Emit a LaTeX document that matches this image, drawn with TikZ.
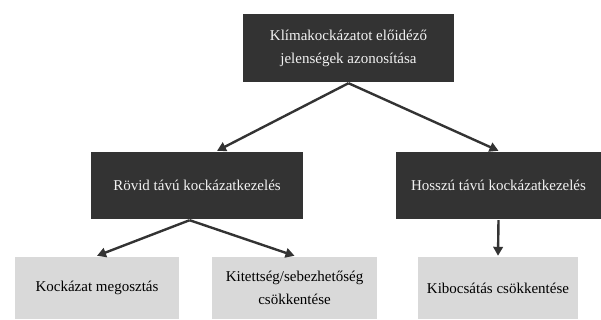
\documentclass[tikz,border=0pt]{standalone}
\usepackage{fontspec}
\setmainfont{Liberation Serif}
\usetikzlibrary{arrows.meta, positioning}
\definecolor{cdark}{HTML}{333333}
\definecolor{clight}{HTML}{D9D9D9}
\definecolor{ctext}{HTML}{F2F2F2}
\tikzset{
  every picture/.style={line width=2.4pt},
  dark/.style={fill=cdark, text=ctext, align=center, inner sep=4pt, font=\fontsize{15}{23}\selectfont},
  light/.style={fill=clight, text=black, align=center, inner sep=4pt, font=\fontsize{15}{23}\selectfont},
  arrow/.style={-{Triangle[length=9pt, width=9.5pt]}, draw=cdark, line width=2.4pt},
}
\begin{document}
\begin{tikzpicture}[x=1pt, y=-1pt]
  \useasboundingbox (0,0) rectangle (601,320);
  \node[dark, minimum width=211pt, minimum height=68pt] (root) at (348.5,48) {Klímakockázatot előidéző\\ jelenségek azonosítása};
  \node[dark, minimum width=212pt, minimum height=67pt] (short) at (197,185.5) {Rövid távú kockázatkezelés};
  \node[dark, minimum width=205pt, minimum height=67pt] (long) at (498.5,185.5) {Hosszú távú kockázatkezelés};
  \node[light, minimum width=164pt, minimum height=62pt] (share) at (97,288) {Kockázat megosztás};
  \node[light, minimum width=165pt, minimum height=62pt] (expo) at (294.5,288) {Kitettség/sebezhetőség\\ csökkentése};
  \node[light, minimum width=160pt, minimum height=62pt] (emis) at (498,288) {Kibocsátás csökkentése};
  \draw[arrow] (root.south) -- (short.60);
  \draw[arrow] (root.south) -- (long.north);
  \draw[arrow] (short.-102) -- (share.north);
  \draw[arrow] (short.-102) -- (expo.north);
  \draw[arrow] (long.south) -- (emis.north);
\end{tikzpicture}
\end{document}
